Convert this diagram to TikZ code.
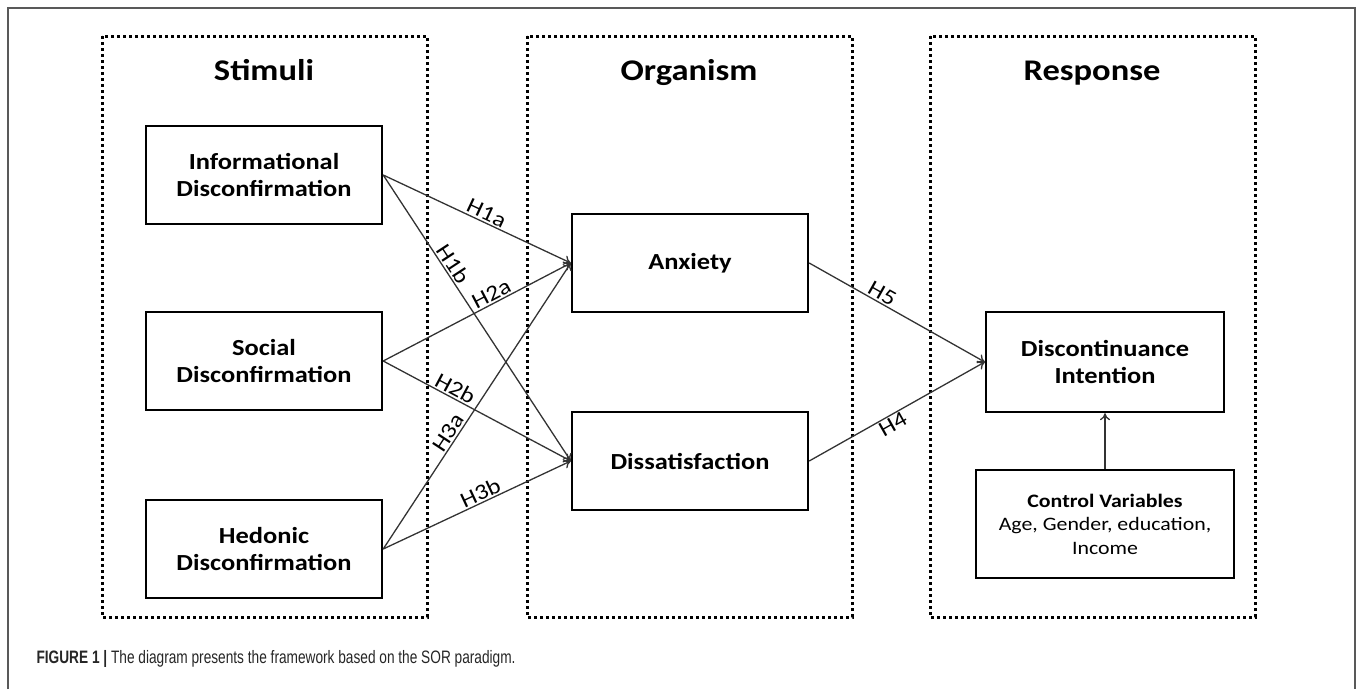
\documentclass[tikz,border=0pt]{standalone}
\usepackage{fontspec}
\setmainfont{Carlito}[FakeStretch=1.15]
\newfontfamily\capfont{Liberation Sans}[FakeStretch=0.76]
\usetikzlibrary{arrows.meta}
\begin{document}
\begin{tikzpicture}[x=1pt, y=-1pt,
    zone/.style={draw=black, line width=3pt, dash pattern=on 3pt off 3pt},
    var/.style={draw=black, line width=2.4pt, minimum width=236pt, minimum height=98pt,
      align=center, inner sep=0pt, font=\fontsize{23}{27}\selectfont\bfseries},
    title/.style={anchor=base, font=\fontsize{30}{34}\selectfont\bfseries},
    link/.style={draw=black!80, line width=1.3pt, -{To[length=7pt,width=10pt]}},
    hyp/.style={font=\fontsize{22}{24}\selectfont, sloped, above, inner sep=1.5pt}]
  \useasboundingbox (0,0) rectangle (1358,689);
  \draw[black!65, line width=1.2pt] (8,689) -- (8,8) -- (1355,8) -- (1355,689);
  % the three zones
  \draw[zone] (102,36) rectangle (427,617);
  \draw[zone] (527,36) rectangle (852,617);
  \draw[zone] (930,36) rectangle (1255,617);
  \node[title] (stim) at (264,80) {Stimuli};
  \node[title] (orga) at (689,80) {Organism};
  \node[title] (resp) at (1092,80) {Response};
  % variables
  \node[var] (info) at (264,175) {Informational\\Disconfirmation};
  \node[var] (soc) at (264,361) {Social\\Disconfirmation};
  \node[var] (hed) at (264,549) {Hedonic\\Disconfirmation};
  \node[var] (anx) at (690,263) {Anxiety};
  \node[var] (dis) at (690,461) {Dissatisfaction};
  \node[var, minimum width=238pt, minimum height=100pt] (disc) at (1105,362) {Discontinuance\\Intention};
  \node[var, minimum width=258pt, minimum height=108pt, font=\fontsize{19}{23.5}\selectfont]
    (ctrl) at (1105,524) {\textbf{Control Variables}\\Age, Gender, education,\\Income};
  % hypotheses
  \draw[link] (info.east) -- node[hyp, pos=0.53] {H1a} (anx.west);
  \draw[link] (info.east) -- node[hyp, pos=0.33] {H1b} (dis.west);
  \draw[link] (soc.east) -- node[hyp, pos=0.6] {H2a} (anx.west);
  \draw[link] (soc.east) -- node[hyp, pos=0.36] {H2b} (dis.west);
  \draw[link] (hed.east) -- node[hyp, pos=0.39] {H3a} (anx.west);
  \draw[link] (hed.east) -- node[hyp, pos=0.54] {H3b} (dis.west);
  \draw[link] (anx.east) -- node[hyp, pos=0.39] {H5} (disc.west);
  \draw[link] (dis.east) -- node[hyp, below, pos=0.45] {H4} (disc.west);
  \draw[link] (ctrl) -- (disc);
  % caption
  \node[anchor=base west, text=black!85, font=\capfont\fontsize{18}{20}\selectfont] (cap) at (33,663)
    {\textbf{FIGURE 1 |} The diagram presents the framework based on the SOR paradigm.};
\end{tikzpicture}
\end{document}
